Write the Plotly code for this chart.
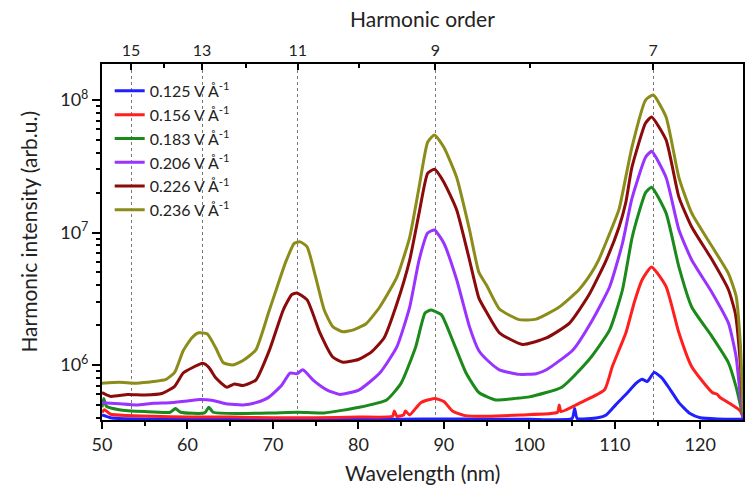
import plotly.graph_objects as go

# ---------------- data ----------------
series_names = ["0.125 V Å<sup>-1</sup>", "0.156 V Å<sup>-1</sup>", "0.183 V Å<sup>-1</sup>",
                "0.206 V Å<sup>-1</sup>", "0.226 V Å<sup>-1</sup>", "0.236 V Å<sup>-1</sup>"]
series_colors = ["#1f1fff", "#ff1f1f", "#1a8a1a", "#9933ff", "#8b0a0a", "#8c8c1a"]

wl_0125 = [50, 51, 52, 55, 60, 65, 70, 75, 80, 85, 90, 95, 100, 105.0, 105.3, 105.6, 108, 109, 110.1,
           111.5, 112.5, 113.2, 113.8, 114.6, 115.5, 116.5, 117.5, 118.8, 120, 122, 125]
val_0125 = [4.2e5, 4.0e5, 3.95e5, 3.92e5, 3.9e5, 3.9e5, 3.9e5, 3.9e5, 3.9e5, 3.9e5, 3.92e5, 3.9e5, 3.9e5,
            3.95e5, 4.7e5, 3.95e5, 4.0e5, 4.2e5, 5.0e5,
            6.2e5, 7.3e5, 7.8e5, 7.5e5, 8.8e5, 8.0e5, 6.5e5, 5.2e5, 4.3e5, 4.0e5, 3.92e5, 3.9e5]

wl_0156 = [50, 50.3, 51, 53, 56, 60, 65, 70, 75, 80, 84.0, 84.2, 84.5, 85.3, 85.5, 86, 87.3, 88.9, 90.0,
           91.0, 92.5, 95, 99, 103.3, 103.5, 103.7, 106, 108.8, 109.7, 111.3, 112.3, 113.2, 114.3,
           116.0, 117.5, 119.0, 121.4, 122.0, 122.3, 123.3, 124.7, 125]
val_0156 = [4.4e5, 4.6e5, 4.25e5, 4.15e5, 4.1e5, 4.05e5, 4.05e5, 4.0e5, 4.0e5, 4.05e5, 4.1e5, 4.5e5, 4.1e5, 4.2e5,
            4.5e5, 4.2e5, 5.2e5, 5.6e5, 5.3e5,
            4.5e5, 4.15e5, 4.1e5, 4.2e5, 4.4e5, 5.0e5, 4.45e5, 5.2e5, 6.5e5, 9.7e5, 1.75e6, 3.0e6, 4.4e6, 5.5e6,
            3.9e6, 1.75e6, 9.7e5, 6.2e5, 6.0e5, 5.7e5, 5.2e5, 4.5e5, 4.0e5]

wl_0183 = [50.0, 50.2, 50.5, 52, 55, 58, 58.6, 59.2, 62, 62.5, 63, 66, 70, 73, 76, 80.1, 83.3, 85.0,
           86.7, 87.8, 88.5, 89.7, 91.0, 92.6, 94.1, 96.1, 98.4, 100.0, 103.8, 107.0, 109.4, 110.9,
           112.0, 112.8, 113.6, 114.3, 116.0, 117.5, 119.0, 121.4, 123.3, 124.2, 125.0]
val_0183 = [4.8e5, 5.6e5, 4.9e5, 4.6e5, 4.45e5, 4.4e5, 4.7e5, 4.4e5, 4.35e5, 4.8e5, 4.4e5, 4.3e5, 4.35e5,
            4.4e5, 4.35e5, 4.8e5, 5.45e5, 7.3e5,
            1.37e6, 2.47e6, 2.6e6, 2.4e6, 1.55e6, 8.7e5, 6.2e5, 5.45e5, 5.6e5, 5.75e5, 6.8e5, 1.1e6, 1.84e6,
            3.7e6, 9.0e6, 1.4e7, 2.0e7, 2.2e7, 1.4e7, 5.5e6, 2.74e6, 1.63e6, 1.04e6, 6.8e5, 4.06e5]

wl_0206 = [50, 52, 54, 56, 58, 60, 61.5, 63.0, 64.5, 66.5, 68.0, 69.5, 71.0, 72.0, 72.8, 73.5, 74.7,
           76.3, 77.8, 80.1, 82.5, 84.5, 86.0, 87.1, 88.1, 88.9, 90.0, 91.5, 93.0, 94.1, 95.0, 96.5,
           98.8, 100.8, 102.0, 105.1, 107.4, 109.4, 110.9, 112.0, 113.6, 114.3, 116.0, 117.5, 119.0,
           121.4, 123.3, 124.2, 124.7, 125.0]
val_0206 = [5.2e5, 5.1e5, 5.0e5, 5.15e5, 5.2e5, 5.35e5, 5.5e5, 5.4e5, 5.1e5, 5.0e5, 5.2e5, 5.7e5, 7.0e5,
            8.7e5, 8.6e5, 9.2e5, 7.7e5,
            6.5e5, 6.0e5, 6.5e5, 8.7e5, 1.37e6, 2.74e6, 6.2e6, 9.9e6, 1.045e7, 8.3e6, 4.4e6, 1.94e6, 1.28e6,
            1.1e6, 9.2e5, 8.5e5, 8.6e5, 9.2e5, 1.3e6, 2.2e6, 3.9e6, 8.3e6, 1.8e7, 3.7e7, 4.1e7, 2.6e7,
            1.05e7, 6.2e6, 3.5e6, 2.07e6, 1.15e6, 5.7e5, 4.0e5]

wl_0226 = [50, 51, 53, 55, 57, 58.5, 59.5, 60.5, 61.8, 62.5, 63.3, 64.6, 65.5, 66.5, 68.0, 69.6, 71.2,
           72.2, 72.8, 74.0, 75.5, 77.0, 78.2, 80.0, 81.5, 83.0, 84.5, 86.0, 87.1, 88.1, 88.9, 90.0,
           91.5, 93.0, 94.1, 95.0, 96.5, 99.2, 102.0, 104.7, 107.0, 109.0, 110.5, 111.3, 112.0, 113.6,
           114.3, 116.0, 117.5, 119.0, 121.4, 123.3, 124.1, 124.7, 125.0]
val_0226 = [6.2e5, 5.8e5, 6.0e5, 5.95e5, 6.1e5, 6.9e5, 8.7e5, 9.5e5, 1.03e6, 9.6e5, 8.0e5, 6.8e5, 7.2e5,
            7.0e5, 7.7e5, 1.3e6, 2.6e6,
            3.4e6, 3.5e6, 3.1e6, 1.75e6, 1.15e6, 1.05e6, 1.1e6, 1.25e6, 1.6e6, 2.9e6, 6.2e6, 1.4e7, 2.8e7,
            3.0e7, 2.4e7, 1.48e7, 6.2e6, 3.2e6, 2.5e6, 1.75e6, 1.43e6, 1.6e6, 2.07e6, 3.4e6, 6.2e6, 1.1e7,
            1.7e7, 3.1e7, 6.7e7, 7.45e7, 5.0e7, 1.85e7, 1.1e7, 6.2e6, 3.7e6, 2.45e6, 1.0e6, 4.3e5]

wl_0236 = [50, 52, 54, 56, 57.5, 58.5, 59.5, 60.5, 61.3, 62.3, 63.3, 64.2, 65.3, 66.5, 68.0, 69.5, 70.5,
           71.5, 72.5, 73.2, 74.0, 75.0, 76.0, 77.0, 78.2, 79.5, 80.9, 82.5, 84.5, 86.0, 87.1, 88.1,
           88.9, 90.0, 91.5, 93.0, 94.1, 95.0, 96.5, 98.8, 100.8, 103.5, 105.8, 107.3, 108.1, 109.7,
           110.5, 112.0, 113.6, 114.5, 116.0, 117.5, 119.0, 121.4, 123.3, 124.2, 124.7, 125.0]
val_0236 = [7.3e5, 7.4e5, 7.3e5, 7.5e5, 7.8e5, 8.8e5, 1.28e6, 1.6e6, 1.75e6, 1.72e6, 1.35e6, 1.04e6, 1.0e6,
            1.08e6, 1.3e6, 2.5e6, 3.9e6,
            6.0e6, 8.3e6, 8.5e6, 7.8e6, 4.6e6, 2.6e6, 1.95e6, 1.78e6, 1.85e6, 2.05e6, 2.74e6, 4.6e6, 9.2e6,
            2.2e7, 4.8e7, 5.45e7, 4.4e7, 2.6e7, 1.05e7, 5.0e6, 4.0e6, 2.65e6, 2.2e6, 2.22e6, 2.74e6, 3.7e6,
            5.0e6, 6.2e6, 1.1e7, 1.5e7, 4.4e7, 1.0e8, 1.09e8, 7.45e7, 2.6e7, 1.4e7, 7.8e6, 4.9e6, 3.3e6,
            1.4e6, 4.3e5]

harmonic_orders = [15, 13, 11, 9, 7]
harmonic_wl = [53.4, 61.7, 72.9, 89.0, 114.5]
minor_orders_wl = [57.2, 66.8, 80.1, 100.1]

y_tick_vals = [1e6, 1e7, 1e8]
y_tick_text = ["10<sup>6</sup>", "10<sup>7</sup>", "10<sup>8</sup>"]
x_tick_vals = [50, 60, 70, 80, 90, 100, 110, 120]

wls = [wl_0125, wl_0156, wl_0183, wl_0206, wl_0226, wl_0236]
vals = [val_0125, val_0156, val_0183, val_0206, val_0226, val_0236]

FONT = "Lato"
TXT = "#222"

fig = go.Figure()
for name, col, x, y in zip(series_names, series_colors, wls, vals):
    fig.add_trace(go.Scatter(x=x, y=y, mode="lines", name=name,
                             line=dict(color=col, width=3, shape="spline", smoothing=0.5)))

# invisible trace to activate the top axis
fig.add_trace(go.Scatter(x=[50, 125], y=[1e6, 1e6], xaxis="x2", mode="lines",
                         line=dict(width=0), showlegend=False, hoverinfo="skip"))

minor_y = [m * 10 ** e for e in range(5, 9) for m in range(2, 10)]

fig.update_layout(
    width=749, height=493,
    margin=dict(l=102, r=6, t=64, b=73),
    paper_bgcolor="white", plot_bgcolor="white",
    font=dict(family=FONT, color=TXT),
    showlegend=True,
    legend=dict(x=0.012, y=0.972, xanchor="left", yanchor="top",
                bgcolor="rgba(0,0,0,0)", font=dict(size=16, family=FONT, color=TXT),
                tracegroupgap=0),
    xaxis=dict(range=[50, 125], tickvals=x_tick_vals, ticks="outside", ticklen=7, tickwidth=1.5,
               tickcolor="black", showline=True, linecolor="black", linewidth=2, mirror=False,
               showgrid=False, zeroline=False, automargin=False,
               minor=dict(tickmode="array", tickvals=[55, 65, 75, 85, 95, 105, 115], ticks="outside",
                          ticklen=4, tickwidth=1.5, tickcolor="black"),
               tickfont=dict(size=18, family=FONT, color=TXT)),
    xaxis2=dict(range=[50, 125], overlaying="x", side="top", tickmode="array",
                tickvals=harmonic_wl, ticktext=[str(h) for h in harmonic_orders],
                ticks="inside", ticklen=6, tickwidth=1.5, tickcolor="black",
                showline=True, linecolor="black", linewidth=2, automargin=False,
                showgrid=True, gridcolor="#777", griddash="dot", gridwidth=1, zeroline=False,
                minor=dict(tickmode="array", tickvals=minor_orders_wl, ticks="inside",
                           ticklen=4, tickwidth=1.5, tickcolor="black"),
                tickfont=dict(size=16, family=FONT, color=TXT)),
    yaxis=dict(type="log", range=[5.585, 8.272], tickmode="array", tickvals=y_tick_vals,
               ticktext=y_tick_text, ticks="outside", ticklen=8, tickwidth=1.5, tickcolor="black",
               showline=True, linecolor="black", linewidth=2, mirror=True, showgrid=False,
               zeroline=False, automargin=False,
               minor=dict(tickmode="array", tickvals=minor_y, ticks="outside", ticklen=4,
                          tickwidth=1.5, tickcolor="black"),
               tickfont=dict(size=18, family=FONT, color=TXT)),
    annotations=[
        dict(text="Wavelength (nm)", xref="paper", yref="paper", x=0.5, y=-0.148,
             xanchor="center", yanchor="middle", showarrow=False,
             font=dict(size=21, family=FONT, color=TXT)),
        dict(text="Harmonic order", xref="paper", yref="paper", x=0.5, y=1.129,
             xanchor="center", yanchor="middle", showarrow=False,
             font=dict(size=21, family=FONT, color=TXT)),
        dict(text="Harmonic intensity (arb.u.)", xref="paper", yref="paper", x=-0.115, y=0.53,
             xanchor="center", yanchor="middle", showarrow=False, textangle=-90,
             font=dict(size=21, family=FONT, color=TXT)),
    ],
)

fig.write_html("out.html", config={"displayModeBar": False},
               post_script="document.body.style.margin='0';document.body.style.overflow='hidden';")
